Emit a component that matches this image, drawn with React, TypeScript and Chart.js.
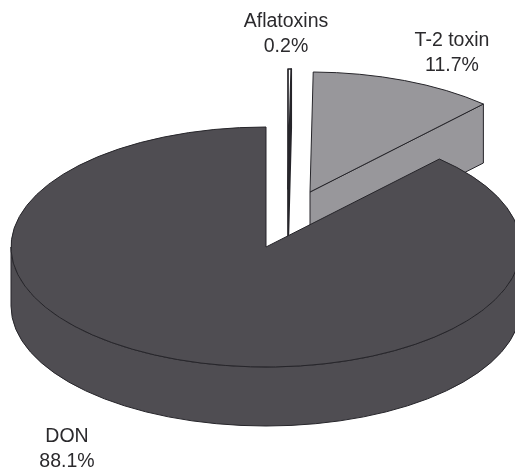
import React, { useEffect, useRef } from "react";
import { Chart, registerables } from "chart.js";

Chart.register(...registerables);

const categories = ["Aflatoxins", "T-2 toxin", "DON"];
const shares = [0.2, 11.7, 88.1];
const sliceColors = ["#ffffff", "#98979b", "#4f4d52"];
const wallColors = ["#3a393d", "#98979b", "#4f4d52"];
const edgeWidths = [1.7, 1, 1];

// Drawing geometry of the tilted pie (screen pixels)
const CENTER = { x: 266, y: 247 };
const RX = 255;
const RY = 120;
const DEPTH = 59;
const EXPLODE = [
  { x: 22, y: -58 },
  { x: 44, y: -55 },
  { x: 0, y: 0 },
];
const LABEL_POS = [
  { x: 286, y: 27 },
  { x: 452, y: 46 },
  { x: 67, y: 442 },
];
const LINE_H = 24.5;
const EDGE = "#26252a";

const pie3d = {
  id: "pie3d",
  beforeDatasetsDraw(chart: any) {
    const ctx: CanvasRenderingContext2D = chart.ctx;
    const arcs = chart.getDatasetMeta(0).data;
    const order = [1, 0, 2];
    ctx.lineJoin = "round";
    for (const i of order) {
      const arc = arcs[i];
      const { x, y, startAngle: a0, endAngle: a1, outerRadius: R } = arc.getProps(
        ["x", "y", "startAngle", "endAngle", "outerRadius"],
        true
      );
      const cx = CENTER.x + EXPLODE[i].x;
      const cy = CENTER.y + EXPLODE[i].y;
      const px = (t: number) => cx + RX * Math.cos(t);
      const py = (t: number) => cy + RY * Math.sin(t);
      ctx.lineWidth = edgeWidths[i];
      ctx.strokeStyle = EDGE;
      ctx.fillStyle = wallColors[i];

      // radial walls that face the viewer
      const faces: number[] = [];
      if (Math.cos(a1) > 0.001) faces.push(a1);
      if (Math.cos(a0) < -0.001) faces.push(a0);
      for (const t of faces) {
        ctx.beginPath();
        ctx.moveTo(cx, cy);
        ctx.lineTo(px(t), py(t));
        ctx.lineTo(px(t), py(t) + DEPTH);
        ctx.lineTo(cx, cy + DEPTH);
        ctx.closePath();
        ctx.fill();
        ctx.stroke();
      }

      // outer wall: the part of the rim in front (0..PI, modulo turns)
      const from = Math.max(a0, 0);
      const to = Math.min(a1, Math.PI);
      if (to > from) {
        ctx.beginPath();
        ctx.ellipse(cx, cy, RX, RY, 0, from, to, false);
        ctx.lineTo(px(to), py(to) + DEPTH);
        ctx.ellipse(cx, cy + DEPTH, RX, RY, 0, to, from, true);
        ctx.closePath();
        ctx.fill();
        ctx.stroke();
      }

      // top face: the library's arc element under a squash transform
      ctx.save();
      ctx.translate(cx, cy);
      ctx.scale(RX / R, RY / R);
      ctx.translate(-x, -y);
      arc.draw(ctx);
      ctx.restore();

      ctx.beginPath();
      ctx.moveTo(cx, cy);
      ctx.lineTo(px(a0), py(a0));
      ctx.ellipse(cx, cy, RX, RY, 0, a0, a1, false);
      ctx.closePath();
      ctx.stroke();
    }
    return false;
  },
  afterDraw(chart: any) {
    const ctx: CanvasRenderingContext2D = chart.ctx;
    ctx.save();
    ctx.fillStyle = "#2b2a2d";
    ctx.font = '19.5px "Liberation Sans"';
    ctx.textAlign = "center";
    ctx.textBaseline = "alphabetic";
    categories.forEach((name, i) => {
      const p = LABEL_POS[i];
      ctx.fillText(name, p.x, p.y);
      ctx.fillText(shares[i].toFixed(1) + "%", p.x, p.y + LINE_H);
    });
    ctx.restore();
  },
};

export default function App() {
  const ref = useRef<HTMLCanvasElement>(null);
  useEffect(() => {
    const chart = new Chart(ref.current as HTMLCanvasElement, {
      type: "pie",
      data: {
        labels: categories,
        datasets: [{ data: shares, backgroundColor: sliceColors, borderWidth: 0 }],
      },
      options: {
        animation: false,
        responsive: false,
        rotation: 0,
        layout: { padding: 0 },
        plugins: { legend: { display: false }, tooltip: { enabled: false } },
      },
      plugins: [pie3d],
    } as any);
    return () => chart.destroy();
  }, []);
  return (
    <div style={{ position: "fixed", left: 0, top: 0, width: 515, height: 467, background: "#fff" }}>
      <canvas ref={ref} width={515} height={467} style={{ display: "block" }} />
    </div>
  );
}
